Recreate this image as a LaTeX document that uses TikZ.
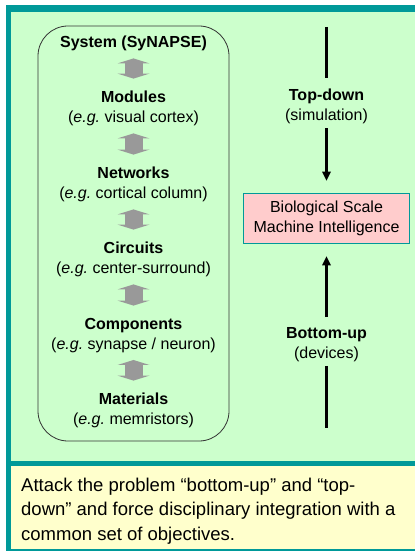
\documentclass[tikz,border=0pt]{standalone}
\usepackage{fontspec}
\setmainfont{Liberation Sans}
\usetikzlibrary{arrows.meta}
\definecolor{framecolor}{rgb}{0.0,0.6,0.6}
\definecolor{panelcolor}{rgb}{0.8,1.0,0.8}
\definecolor{notecolor}{rgb}{1.0,1.0,0.8}
\definecolor{goalcolor}{rgb}{1.0,0.8,0.8}
\definecolor{linkcolor}{rgb}{0.6,0.6,0.6}

\begin{document}
\frenchspacing
\begin{tikzpicture}[x=1bp, y=-1bp,
    level/.style={align=center, anchor=north, inner sep=0pt, font=\fontsize{16bp}{20bp}\selectfont},
    updown/.style={draw=linkcolor, line width=18bp, shorten <=7bp, shorten >=12.5bp,
      {Triangle[width=32bp, length=5bp, line width=0pt]}-{Triangle[width=32bp, length=5bp, line width=0pt]}},
    flow/.style={draw=black, line width=2.5bp},
    flowtip/.style={flow, -{Triangle[width=9bp, length=9bp, line width=0pt]}},
  ]
\useasboundingbox (0,0) rectangle (415,551);
% frame and panels
\fill[framecolor] (6,5) rectangle (415,551);
\fill[panelcolor] (11,12) rectangle (415,460.5);
\fill[notecolor] (11,466) rectangle (415,549);

% left stack
\node[draw=black!80, line width=0.8bp, rounded corners=30bp, minimum width=191bp, minimum height=415bp] (stack) at (133.5,233.5) {};
\node[level] (sys) at (133.5,36.1) {\textbf{System (SyNAPSE)}};
\node[level] (mod) at (133.5,91.1) {\textbf{Modules}\\(\textit{e.g.} visual cortex)};
\node[level] (net) at (133.5,167.1) {\textbf{Networks}\\(\textit{e.g.} cortical column)};
\node[level] (cir) at (133.5,242.1) {\textbf{Circuits}\\(\textit{e.g.} center-surround)};
\node[level] (com) at (133.5,318.1) {\textbf{Components}\\(\textit{e.g.} synapse / neuron)};
\node[level] (mat) at (133.5,393.1) {\textbf{Materials}\\(\textit{e.g.} memristors)};
\draw[updown] (sys) -- (mod);
\draw[updown] (mod) -- (net);
\draw[updown] (net) -- (cir);
\draw[updown] (cir) -- (com);
\draw[updown] (com) -- (mat);

% right side
\node[draw=framecolor, line width=0.8bp, fill=goalcolor, align=center, inner sep=0pt,
  minimum width=166bp, minimum height=50bp, font=\fontsize{16bp}{20bp}\selectfont] (bio) at (326.5,218)
  {Biological Scale\\Machine Intelligence};
\node[level] (td) at (326.5,89.1) {\textbf{Top-down}\\(simulation)};
\node[level] (bu) at (326.5,327.1) {\textbf{Bottom-up}\\(devices)};
\coordinate (tdtop) at (326.5,27);
\coordinate (bubot) at (326.5,428);
\draw[flow, shorten >=11bp] (tdtop) -- (td);
\draw[flowtip, shorten <=4bp, shorten >=12bp] (td) -- (bio);
\draw[flowtip, shorten <=10bp, shorten >=13bp] (bu) -- (bio);
\draw[flow, shorten <=4bp] (bu) -- (bubot);

% note
\node[align=flush left, anchor=north west, inner sep=0pt, font=\fontsize{18.5bp}{24.5bp}\selectfont] (note) at (21,477.5)
  {Attack the problem “bottom-up” and “top-\\down” and force disciplinary integration with a\\common set of objectives.};
\end{tikzpicture}
\end{document}
